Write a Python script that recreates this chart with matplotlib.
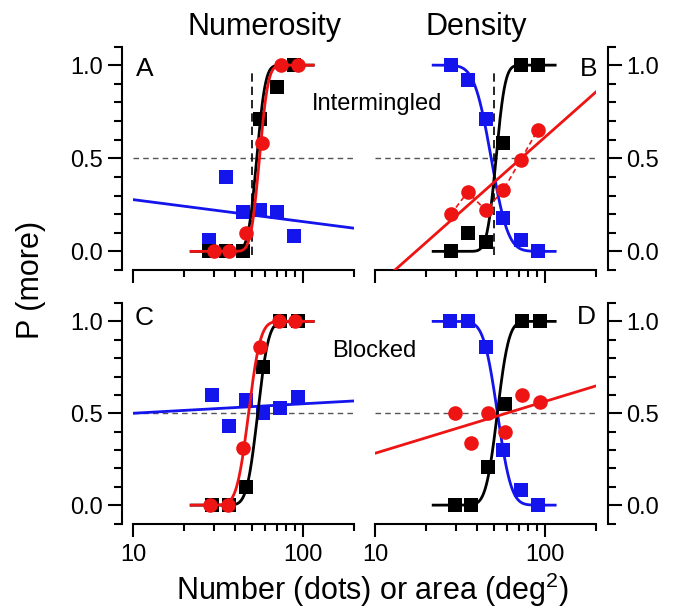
import matplotlib.pyplot as plt
import numpy as np
from matplotlib import ticker
from math import erf

plt.rcParams['font.family'] = ['Liberation Sans', 'DejaVu Sans']
plt.rcParams['mathtext.fontset'] = 'custom'
plt.rcParams['mathtext.rm'] = 'Liberation Sans'

# ---- data ----
# Panel A: numerosity, intermingled
a_x_sq = [28.1, 35.4, 44.5, 56.1, 70.7, 89.1]
a_x_circ = [29.8, 36.6, 46.0, 57.7, 74.0, 93.0]
a_black = [0.0, 0.0, 0.0, 0.71, 0.88, 1.0]
a_blue = [0.06, 0.40, 0.21, 0.22, 0.21, 0.08]
a_red = [0.0, 0.0, 0.10, 0.58, 1.0, 1.0]

# Panel B: density, intermingled
b_x = [28.0, 35.2, 44.8, 57.0, 72.0, 90.5]
b_black = [0.0, 0.10, 0.05, 0.58, 1.0, 1.0]
b_blue = [1.0, 0.92, 0.71, 0.18, 0.06, 0.0]
b_red = [0.20, 0.32, 0.22, 0.33, 0.49, 0.65]

# Panel C: numerosity, blocked
c_x_sq = [29.2, 36.6, 46.3, 58.5, 73.4, 93.0]
c_x_circ = [28.3, 36.1, 44.6, 56.0, 72.4, 89.7]
c_black = [0.0, 0.0, 0.10, 0.75, 1.0, 1.0]
c_blue = [0.60, 0.43, 0.57, 0.50, 0.53, 0.59]
c_red = [0.0, 0.0, 0.31, 0.86, 1.0, 1.0]

# Panel D: density, blocked
d_x_blue = [27.5, 35.2, 44.8, 57.0, 72.0, 90.5]
d_x = [29.5, 36.8, 46.0, 58.0, 73.8, 93.8]
d_black = [0.0, 0.0, 0.21, 0.55, 1.0, 1.0]
d_blue = [1.0, 1.0, 0.86, 0.30, 0.08, 0.0]
d_red = [0.50, 0.34, 0.50, 0.40, 0.60, 0.56]

# cumulative gaussian fits: (point of subjective equality, sigma in log10 units)
a_black_fit = (53.5, 0.040)
a_red_fit = (55.5, 0.040)
b_black_fit = (51.6, 0.042)
b_blue_fit = (48.3, 0.078)
c_black_fit = (54.2, 0.050)
c_red_fit = (47.9, 0.055)
d_black_fit = (52.5, 0.053)
d_blue_fit = (52.6, 0.064)

# linear fits against log10(x/10): (intercept, slope)
a_blue_lin = (0.278, -0.118)
b_red_lin = (-0.195, 0.808)
c_blue_lin = (0.50, 0.0515)
d_red_lin = (0.282, 0.282)

BLUE = '#1414ec'
RED = '#ee1414'


def cum_gauss(x, fit, falling=False):
    mu, sigma = fit
    z = (np.log10(x) - np.log10(mu)) / sigma
    p = np.array([0.5 * (1 + erf(v / np.sqrt(2))) for v in z])
    return 1 - p if falling else p


def lin_fit(x, fit):
    return fit[0] + fit[1] * np.log10(x / 10.0)


xc = np.geomspace(22, 115, 300)
xl = np.geomspace(10, 200, 50)

fig = plt.figure(figsize=(6.81, 6.12), dpi=100)
W = 221 / 681
ax_a = fig.add_axes([133 / 681, 0.5588, W, 0.3652])
ax_b = fig.add_axes([375 / 681, 0.5588, W, 0.3652])
ax_c = fig.add_axes([133 / 681, 0.1446, W, 0.3603])
ax_d = fig.add_axes([375 / 681, 0.1446, W, 0.3603])


def style(ax, right=False, bottom_labels=False):
    ax.set_xscale('log')
    ax.set_xlim(10, 200)
    ax.set_ylim(-0.1, 1.1)
    for s in ['top', 'right', 'left']:
        ax.spines[s].set_visible(False)
    side = 'right' if right else 'left'
    ax.spines[side].set_visible(True)
    ax.spines[side].set_position(('outward', 8.5 if right else 8))
    for s in ax.spines.values():
        s.set_linewidth(1.5)
    if right:
        ax.yaxis.tick_right()
    ax.set_yticks([0.0, 0.5, 1.0])
    ax.yaxis.set_major_formatter(ticker.FormatStrFormatter('%.1f'))
    ax.yaxis.set_minor_locator(ticker.FixedLocator(np.arange(-0.1, 1.15, 0.1)))
    ax.set_xticks([10, 100])
    ax.xaxis.set_major_formatter(ticker.FixedFormatter(['10', '100']))
    ax.xaxis.set_minor_locator(ticker.LogLocator(base=10, subs=np.arange(2, 10)))
    ax.xaxis.set_minor_formatter(ticker.NullFormatter())
    ax.tick_params(axis='y', which='major', direction='out', length=10, width=1.5,
                   labelsize=17, pad=3.5)
    ax.tick_params(axis='y', which='minor', direction='out', length=5.5, width=1.5)
    ax.tick_params(axis='x', which='major', direction='out', length=9.5, width=1.5,
                   labelsize=17, pad=5, labelbottom=bottom_labels)
    ax.tick_params(axis='x', which='minor', direction='out', length=5, width=1.5)
    ax.patch.set_visible(False)


for ax in (ax_a, ax_b, ax_c, ax_d):
    ax.plot([10, 200], [0.5, 0.5], color='#555555', lw=1, dashes=(4, 3), zorder=1)
for ax in (ax_a, ax_b):
    ax.plot([50, 50], [-0.02, 0.96], color='black', lw=1.2, dashes=(5, 3), zorder=1)

sq = dict(marker='s', ms=9.5, mew=0, ls='none')
ci = dict(marker='o', ms=10.5, mew=0, ls='none')

# A
ax_a.plot(xl, lin_fit(xl, a_blue_lin), color=BLUE, lw=2, zorder=2)
ax_a.plot(a_x_sq, a_blue, color=BLUE, zorder=3, **sq)
ax_a.plot(a_x_sq, a_black, color='black', zorder=4, **sq)
ax_a.plot(xc, cum_gauss(xc, a_black_fit), color='black', lw=2, zorder=5)
ax_a.plot(a_x_circ, a_red, color=RED, zorder=6, **ci)
ax_a.plot(xc, cum_gauss(xc, a_red_fit), color=RED, lw=2, zorder=7)

# B
ax_b.plot(xc, cum_gauss(xc, b_blue_fit, falling=True), color=BLUE, lw=2, zorder=2)
ax_b.plot(b_x, b_blue, color=BLUE, zorder=3, **sq)
ax_b.plot(b_x, b_black, color='black', zorder=4, **sq)
ax_b.plot(xc, cum_gauss(xc, b_black_fit), color='black', lw=2, zorder=5)
ax_b.plot(b_x, b_red, color=RED, lw=1.2, dashes=(3, 2), zorder=6)
ax_b.plot(b_x, b_red, color=RED, zorder=6, **ci)
ax_b.plot(xl, lin_fit(xl, b_red_lin), color=RED, lw=2, zorder=7)

# C
ax_c.plot(xl, lin_fit(xl, c_blue_lin), color=BLUE, lw=2, zorder=2)
ax_c.plot(c_x_sq, c_blue, color=BLUE, zorder=3, **sq)
ax_c.plot(c_x_sq, c_black, color='black', zorder=4, **sq)
ax_c.plot(xc, cum_gauss(xc, c_black_fit), color='black', lw=2, zorder=5)
ax_c.plot(c_x_circ, c_red, color=RED, zorder=6, **ci)
ax_c.plot(xc, cum_gauss(xc, c_red_fit), color=RED, lw=2, zorder=7)

# D
ax_d.plot(xc, cum_gauss(xc, d_blue_fit, falling=True), color=BLUE, lw=2, zorder=2)
ax_d.plot(d_x_blue, d_blue, color=BLUE, zorder=3, **sq)
ax_d.plot(d_x, d_black, color='black', zorder=4, **sq)
ax_d.plot(xc, cum_gauss(xc, d_black_fit), color='black', lw=2, zorder=5)
ax_d.plot(d_x, d_red, color=RED, zorder=6, **ci)
ax_d.plot(xl, lin_fit(xl, d_red_lin), color=RED, lw=2, zorder=7)

style(ax_a)
style(ax_b, right=True)
style(ax_c, bottom_labels=True)
style(ax_d, right=True, bottom_labels=True)

# panel letters and annotations
fig.text(136 / 681, 1 - 75.7 / 612, 'A', fontsize=19, ha='left', va='baseline')
fig.text(597 / 681, 1 - 75.5 / 612, 'B', fontsize=19, ha='right', va='baseline')
fig.text(135 / 681, 1 - 325 / 612, 'C', fontsize=19, ha='left', va='baseline')
fig.text(596 / 681, 1 - 323.5 / 612, 'D', fontsize=19, ha='right', va='baseline')
fig.text(376.7 / 681, 1 - 110 / 612, 'Intermingled', fontsize=17, ha='center', va='baseline')
fig.text(374 / 681, 1 - 356.7 / 612, 'Blocked', fontsize=17, ha='center', va='baseline')

fig.text(265 / 681, 1 - 35 / 612, 'Numerosity', fontsize=22, ha='center', va='baseline')
fig.text(476.5 / 681, 1 - 35 / 612, 'Density', fontsize=22, ha='center', va='baseline')
fig.text(31.5 / 681, 1 - 280 / 612, 'P (more)', fontsize=22, rotation=90,
         ha='center', va='center')
fig.text(372 / 681, 1 - 590 / 612, r'Number (dots) or area (deg$^{2}$)', fontsize=22,
         ha='center', va='center')

fig.savefig('out.png', dpi=100)
